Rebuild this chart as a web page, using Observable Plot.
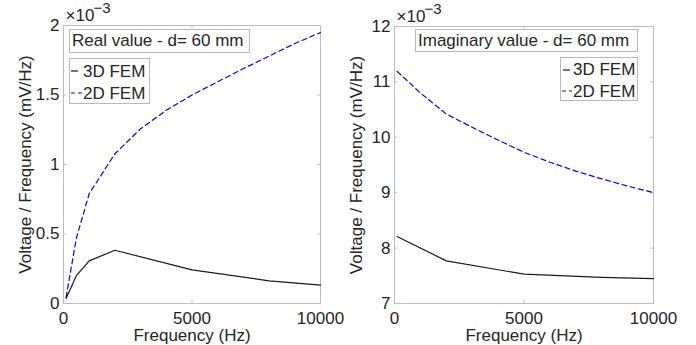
<!DOCTYPE html>
<html>
<head>
<meta charset="utf-8">
<script src="https://cdn.jsdelivr.net/npm/d3@7"></script>
<script src="https://cdn.jsdelivr.net/npm/@observablehq/plot@0.6"></script>
<style>
  html, body { margin: 0; padding: 0; background: #fff; }
  body { font-family: "Liberation Sans", Arial, sans-serif; }
  #fig { display: flex; width: 696px; height: 345px; }
  .panel { position: relative; width: 348px; height: 345px; }
  .panel svg { display: block; }
  .box { position: absolute; background: #fff; border: 1px solid #b8b8b8; box-sizing: border-box; }
  .txt { position: absolute; font-size: 17px; line-height: 17px; color: #262626; white-space: nowrap; font-family: "Liberation Sans", Arial, sans-serif; }
  .smp { position: absolute; overflow: visible; }
</style>
</head>
<body>
<div id="fig"></div>
<script>
// ---- data (values in units of 1e-3 mV/Hz) ----
const xTicks = [0, 5000, 10000];
const realYTicks = [0, 0.5, 1, 1.5, 2];
const imagYTicks = [7, 8, 9, 10, 11, 12];

const realFreq3D = [100, 500, 1000, 2000, 5000, 8000, 10000];
const realVal3D  = [0.036, 0.20, 0.307, 0.383, 0.242, 0.163, 0.132];
const realFreq2D = [100, 500, 1000, 2000, 3000, 4000, 5000, 6000, 7000, 8000, 9000, 10000];
const realVal2D  = [0.045, 0.47, 0.79, 1.077, 1.257, 1.39, 1.50, 1.595, 1.69, 1.78, 1.87, 1.95];

const imagFreq3D = [100, 2000, 5000, 8000, 10000];
const imagVal3D  = [8.21, 7.77, 7.53, 7.47, 7.45];
const imagFreq2D = [100, 1000, 2000, 3000, 4000, 5000, 6000, 7000, 8000, 9000, 10000];
const imagVal2D  = [11.19, 10.80, 10.42, 10.18, 9.95, 9.73, 9.55, 9.39, 9.25, 9.12, 9.0];

const seriesNames = ["3D FEM", "2D FEM"];
const titles = ["Real value - d= 60 mm", "Imaginary value - d= 60 mm"];
const xLabel = "Frequency (Hz)";
const yLabel = "Voltage / Frequency (mV/Hz)";
const expBase = "×10";
const expPow = "−3";

const FONT = "'Liberation Sans', Arial, Helvetica, sans-serif";
const GREY = "#bdbdbd";

function makePanel(cfg) {
  const W = 348, H = 345;
  const pw = W - cfg.ml - cfg.mr, ph = H - cfg.mt - cfg.mb;
  const tick = 3;
  const d3 = cfg.f3.map((f, i) => ({f, v: cfg.v3[i]}));
  const d2 = cfg.f2.map((f, i) => ({f, v: cfg.v2[i]}));
  return Plot.plot({
    width: W, height: H,
    marginLeft: cfg.ml, marginRight: cfg.mr, marginTop: cfg.mt, marginBottom: cfg.mb,
    style: {fontFamily: FONT, fontSize: "17px", color: "#262626", background: "white", overflow: "visible"},
    x: {domain: [0, 10000], ticks: xTicks, tickSize: 0, tickPadding: 8, tickFormat: d => String(d), label: null},
    y: {domain: cfg.yDomain, ticks: cfg.yTicks, tickSize: 0, tickPadding: 4, tickFormat: d => String(d), label: null},
    marks: [
      Plot.frame({stroke: GREY}),
      Plot.ruleX(xTicks, {stroke: GREY, insetTop: ph - tick}),
      Plot.ruleX(xTicks, {stroke: GREY, insetBottom: ph - tick}),
      Plot.ruleY(cfg.yTicks, {stroke: GREY, insetRight: pw - tick}),
      Plot.ruleY(cfg.yTicks, {stroke: GREY, insetLeft: pw - tick}),
      Plot.line(d2, {x: "f", y: "v", stroke: "#0000ff", strokeWidth: 1.2, strokeDasharray: "5,3.5"}),
      Plot.line(d3, {x: "f", y: "v", stroke: "#1a1a1a", strokeWidth: 1.2}),
      Plot.text([xLabel], {text: d => d, frameAnchor: "bottom", textAnchor: "middle", dy: 37.5, lineAnchor: "bottom", fill: "#262626"}),
      Plot.text([yLabel], {text: d => d, frameAnchor: "left", textAnchor: "middle", rotate: -90, dx: -33, lineAnchor: "bottom", fill: "#262626"}),
      Plot.text([expBase], {text: d => d, frameAnchor: "top-left", textAnchor: "start", lineAnchor: "bottom", dx: 2, dy: -4.3, fontSize: 17, fill: "#262626"}),
      Plot.text([expPow], {text: d => d, frameAnchor: "top-left", textAnchor: "start", lineAnchor: "bottom", dx: 30, dy: -12.5, fontSize: 15, fill: "#262626"})
    ]
  });
}

function el(parent, cls, css, html) {
  const e = document.createElement("div");
  e.className = cls;
  Object.assign(e.style, css);
  if (html != null) e.textContent = html;
  parent.appendChild(e);
  return e;
}
function txt(parent, s, left, baseline) {
  return el(parent, "txt", {left: left + "px", top: (baseline - 14.4) + "px"}, s);
}
function sample(parent, x1, x2, y, color, dash) {
  const ns = "http://www.w3.org/2000/svg";
  const svg = document.createElementNS(ns, "svg");
  svg.setAttribute("class", "smp");
  svg.setAttribute("width", 20); svg.setAttribute("height", 4);
  svg.style.left = x1 + "px"; svg.style.top = (y - 2) + "px";
  const l = document.createElementNS(ns, "line");
  l.setAttribute("x1", 0); l.setAttribute("x2", x2 - x1);
  l.setAttribute("y1", 2); l.setAttribute("y2", 2);
  l.setAttribute("stroke", color); l.setAttribute("stroke-width", 1.2);
  if (dash) l.setAttribute("stroke-dasharray", dash);
  svg.appendChild(l);
  parent.appendChild(svg);
}

const fig = document.getElementById("fig");

// ---- left panel ----
const p1 = el(fig, "panel", {});
p1.appendChild(makePanel({ml: 63, mr: 28, mt: 25, mb: 42, yDomain: [0, 2], yTicks: realYTicks,
  f3: realFreq3D, v3: realVal3D, f2: realFreq2D, v2: realVal2D}));
el(p1, "box", {left: "69px", top: "29px", width: "181px", height: "24px"});
txt(p1, titles[0], 72, 46.7);
el(p1, "box", {left: "69px", top: "58px", width: "81px", height: "46px"});
sample(p1, 71, 78, 71, "#1a1a1a", null);
txt(p1, seriesNames[0], 83, 77);
sample(p1, 71, 82, 93, "#0000ff", "4,3");
txt(p1, seriesNames[1], 83, 99.3);

// ---- right panel ----
const p2 = el(fig, "panel", {});
p2.appendChild(makePanel({ml: 46, mr: 43, mt: 26, mb: 42, yDomain: [7, 12], yTicks: imagYTicks,
  f3: imagFreq3D, v3: imagVal3D, f2: imagFreq2D, v2: imagVal2D}));
el(p2, "box", {left: "67px", top: "29px", width: "223px", height: "23px"});
txt(p2, titles[1], 70, 46.2);
el(p2, "box", {left: "212px", top: "57px", width: "78px", height: "44px"});
sample(p2, 215, 222, 70, "#1a1a1a", null);
txt(p2, seriesNames[0], 225, 75.7);
sample(p2, 214, 224, 91, "#0000ff", "4,3");
txt(p2, seriesNames[1], 225, 97.5);
</script>
</body>
</html>
